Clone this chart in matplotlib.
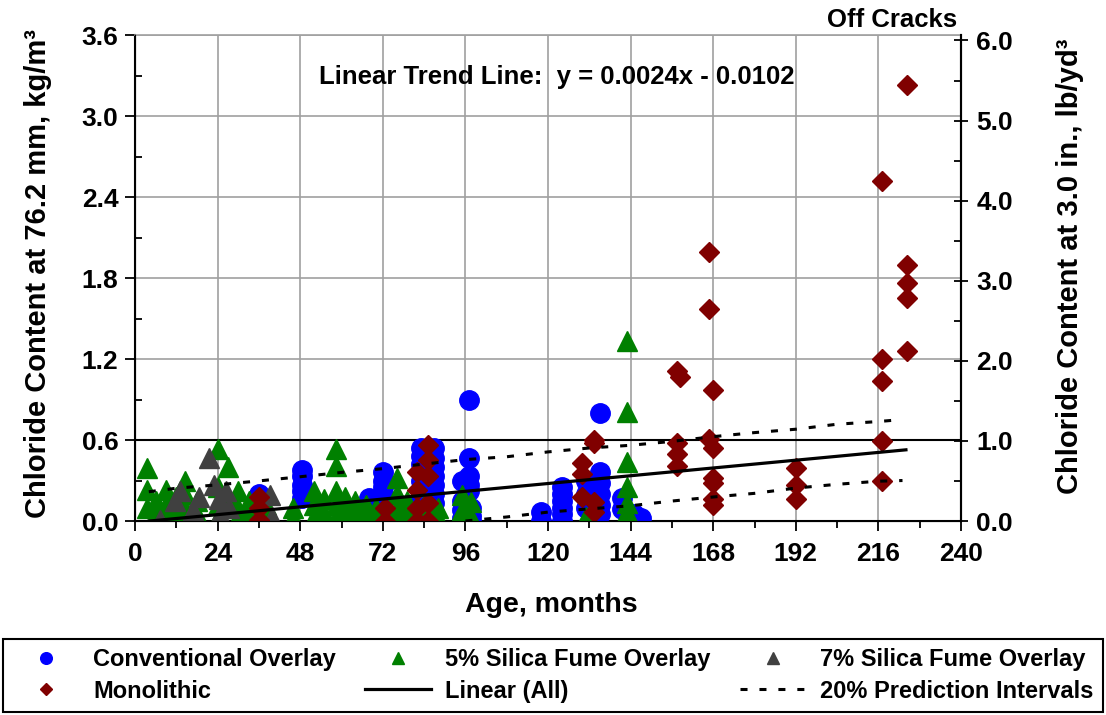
import matplotlib
matplotlib.use("Agg")
import matplotlib.pyplot as plt
import numpy as np
from matplotlib.lines import Line2D
from matplotlib.ticker import MultipleLocator, FormatStrFormatter

plt.rcParams['font.family'] = ['Liberation Sans', 'DejaVu Sans']
plt.rcParams['font.weight'] = 'bold'

# ---- data (age in months, chloride in kg/m3) ----
conv_age = [36, 36, 48.5, 48.5, 48.5, 48.5, 48.5,
            72, 72, 72, 72, 72, 72, 72, 72, 68, 68,
            83, 83, 83, 83, 83, 83, 83, 83, 83, 83,
            87, 87, 87, 87, 87, 87, 87, 87,
            97, 97, 97, 97, 97, 95, 95, 95, 95, 97.5, 97.5, 97.5,
            118, 118, 124, 124, 124, 124, 124, 124,
            131, 131, 131, 135, 135, 135, 135, 135, 135,
            141.5, 141.5, 145, 145, 147]
conv_cl = [0.20, 0.12, 0.38, 0.33, 0.27, 0.22, 0.17,
           0.36, 0.30, 0.25, 0.20, 0.15, 0.10, 0.05, 0.0, 0.17, 0.10,
           0.54, 0.48, 0.42, 0.36, 0.30, 0.24, 0.18, 0.12, 0.06, 0.0,
           0.54, 0.47, 0.40, 0.33, 0.27, 0.20, 0.13, 0.07,
           0.90, 0.47, 0.33, 0.27, 0.22, 0.30, 0.15, 0.08, 0.02, 0.10, 0.04, 0.0,
           0.07, 0.0, 0.25, 0.20, 0.15, 0.10, 0.05, 0.0,
           0.30, 0.20, 0.10, 0.80, 0.36, 0.28, 0.20, 0.12, 0.05,
           0.17, 0.09, 0.05, 0.02, 0.02]

sf5_age = [3.5, 3.5, 3.5, 6, 6, 9, 9, 9, 12, 12, 14.5, 14.5, 14.5, 14.5, 18, 18,
           24, 24, 24, 24, 27, 27, 30, 30, 30, 33, 33, 38, 38, 46, 46,
           52, 52, 52, 55, 55, 58.5, 58.5, 58.5, 58.5, 58.5, 61, 61, 61, 64, 64,
           67, 67, 70, 70, 76, 76, 76, 76, 79, 79, 84, 84, 88, 88,
           95, 95, 97.5, 97.5, 131, 131, 143, 143, 143, 143, 143, 143]
sf5_cl = [0.39, 0.23, 0.10, 0.15, 0.05, 0.23, 0.12, 0.02, 0.18, 0.08, 0.30, 0.20, 0.10, 0.03, 0.15, 0.05,
          0.53, 0.25, 0.12, 0.02, 0.40, 0.18, 0.22, 0.10, 0.03, 0.15, 0.05, 0.12, 0.02, 0.10, 0.02,
          0.22, 0.12, 0.03, 0.16, 0.06, 0.53, 0.41, 0.22, 0.12, 0.03, 0.18, 0.08, 0.0, 0.15, 0.05,
          0.12, 0.02, 0.10, 0.02, 0.32, 0.20, 0.10, 0.02, 0.15, 0.05, 0.12, 0.03, 0.10, 0.02,
          0.19, 0.08, 0.14, 0.03, 0.03, 0.0, 1.33, 0.81, 0.44, 0.25, 0.13, 0.07]

sf7_age = [7.3, 11.6, 13.2, 16.9, 18.7, 21.5, 22.8, 24.3, 24.8, 26.4, 27.3, 39.2, 39.8]
sf7_cl = [0.01, 0.15, 0.22, 0.08, 0.18, 0.47, 0.27, 0.16, 0.05, 0.22, 0.10, 0.19, 0.03]

mono_age = [36, 36, 36, 72.5, 72.5, 82, 82, 82, 82, 85, 85, 85, 85, 85,
            130, 130, 130, 133.5, 133.5, 133.5, 133.5,
            157.5, 158.3, 157.5, 157.5, 157.5,
            166.8, 166.8, 166.8, 168, 168, 168, 168, 168, 168,
            192, 192, 192, 217, 217, 217, 217, 217,
            224.3, 224.3, 224.3, 224.3, 224.3]
mono_cl = [0.18, 0.10, 0.01, 0.10, 0.0, 0.36, 0.23, 0.10, 0.0, 0.56, 0.45, 0.33, 0.13, 0.0,
           0.43, 0.35, 0.18, 0.60, 0.58, 0.14, 0.07,
           1.11, 1.07, 0.58, 0.50, 0.41,
           1.99, 1.57, 0.61, 0.97, 0.54, 0.32, 0.28, 0.16, 0.12,
           0.39, 0.27, 0.16, 2.52, 1.20, 1.04, 0.59, 0.30,
           3.23, 1.90, 1.76, 1.65, 1.26]

# trend line (as printed on chart) and 20% prediction intervals
trend_slope, trend_icpt = 0.0024, -0.0102
trend_range = [4, 224]
pi_up_age = [4, 12, 24, 36, 48, 60, 72, 84, 96, 108, 120, 132, 144, 156, 168, 180, 192, 204, 216, 223]
pi_up = [0.217, 0.243, 0.268, 0.297, 0.328, 0.36, 0.388, 0.422, 0.455, 0.476, 0.512,
         0.541, 0.561, 0.59, 0.625, 0.655, 0.68, 0.717, 0.737, 0.752]
pi_lo_age = [96, 108, 120, 132, 144, 156, 168, 180, 192, 204, 216, 223]
pi_lo = [0.0, 0.03, 0.066, 0.09, 0.113, 0.148, 0.178, 0.205, 0.244, 0.272, 0.295, 0.30]
threshold = 0.6
kg_to_lb = 1.6856

# ---- figure ----
fig = plt.figure(figsize=(11.06, 7.15), dpi=100)
ax = fig.add_axes([0.1221, 0.2713, 0.7468, 0.6797])

ms_c, ms_t, ms_d = 14, 14.5, 9.8
ax.plot(conv_age, conv_cl, 'o', color='#0000FF', ms=ms_c, mec='#0000FF', zorder=3)
ax.plot(sf5_age, sf5_cl, '^', color='#008000', ms=ms_t, mec='#008000', zorder=4)
ax.plot(sf7_age, sf7_cl, '^', color='#404040', ms=ms_t, mec='#404040', zorder=5)
ax.plot(mono_age, mono_cl, 'D', color='#800000', ms=ms_d, mec='#800000', zorder=6)

tx = np.array(trend_range, dtype=float)
ax.plot(tx, trend_slope * tx + trend_icpt, color='black', lw=2.3, zorder=7)
dash = (0, (2.3, 3.9))
ax.plot(pi_up_age, pi_up, color='black', lw=2.2, ls=dash, zorder=7)
ax.plot(pi_lo_age, pi_lo, color='black', lw=2.2, ls=dash, zorder=7)
ax.axhline(threshold, color='black', lw=1.5, zorder=2)

ax.set_xlim(0, 240)
ax.set_ylim(0, 3.6)
ax.xaxis.set_major_locator(MultipleLocator(24))
ax.xaxis.set_minor_locator(MultipleLocator(12))
ax.yaxis.set_major_locator(MultipleLocator(0.6))
ax.yaxis.set_minor_locator(MultipleLocator(0.3))
ax.yaxis.set_major_formatter(FormatStrFormatter('%.1f'))
ax.grid(True, which='major', color='#A0A0A0', lw=1.2, zorder=0)
ax.set_axisbelow(True)
ax.tick_params(axis='both', which='major', labelsize=19, length=7, width=1.3, direction='out')
ax.tick_params(axis='y', which='minor', length=5, width=1.3, direction='in')
ax.tick_params(axis='x', which='minor', length=5, width=1.3, direction='out')
ax.tick_params(axis='x', pad=8)
ax.tick_params(axis='y', pad=5)
for lbl in ax.get_xticklabels() + ax.get_yticklabels():
    lbl.set_fontweight('bold')
for s in ['left', 'bottom', 'right']:
    ax.spines[s].set_linewidth(1.5)
ax.spines['top'].set_color('#A0A0A0')
ax.spines['top'].set_linewidth(1.2)

ax2 = ax.twinx()
ax2.set_ylim(0, 3.6 * kg_to_lb)
ax2.yaxis.set_major_locator(MultipleLocator(1.0))
ax2.yaxis.set_minor_locator(MultipleLocator(0.5))
ax2.yaxis.set_major_formatter(FormatStrFormatter('%.1f'))
ax2.tick_params(axis='y', which='major', labelsize=19, length=10, width=1.3, direction='inout', pad=6)
ax2.tick_params(axis='y', which='minor', length=5, width=1.3, direction='in')
for lbl in ax2.get_yticklabels():
    lbl.set_fontweight('bold')
ax2.spines['right'].set_linewidth(1.5)
ax2.spines['top'].set_visible(False)

fig.text(0.4982, 0.154, 'Age, months', ha='center', va='center', fontsize=20.5, fontweight='bold')
fig.text(0.034, 0.618, 'Chloride Content at 76.2 mm, kg/m³', rotation=90,
         ha='center', va='center', fontsize=21, fontweight='bold')
fig.text(0.967, 0.628, 'Chloride Content at 3.0 in., lb/yd³', rotation=90,
         ha='center', va='center', fontsize=21, fontweight='bold')
ax.text(0.51, 0.914, 'Linear Trend Line:  y = 0.0024x - 0.0102', transform=ax.transAxes,
        ha='center', va='center', fontsize=18.5, fontweight='bold')
fig.text(0.865, 0.972, 'Off Cracks', ha='right', va='center', fontsize=18.5, fontweight='bold')

handles = [
    Line2D([], [], ls='none', marker='o', color='#0000FF', ms=ms_c),
    Line2D([], [], ls='none', marker='D', color='#800000', ms=ms_d),
    Line2D([], [], ls='none', marker='^', color='#008000', ms=ms_t),
    Line2D([], [], color='black', lw=2.3),
    Line2D([], [], ls='none', marker='^', color='#404040', ms=ms_t),
    Line2D([], [], color='black', lw=2.2, ls=dash),
]
labels = ['Conventional Overlay', 'Monolithic', '5% Silica Fume Overlay', 'Linear (All)',
          '7% Silica Fume Overlay', '20% Prediction Intervals']
leg = fig.legend(handles, labels, ncol=3, loc='lower left',
                 bbox_to_anchor=(0.003, 0.004, 0.994, 0.101), mode='expand',
                 handlelength=2.8, handletextpad=0.6, markerscale=0.6, borderaxespad=0,
                 labelspacing=0.35, fancybox=False, edgecolor='black', framealpha=1,
                 prop={'weight': 'bold', 'size': 17})
leg.get_frame().set_linewidth(1.5)

fig.savefig('out.png', dpi=100)
